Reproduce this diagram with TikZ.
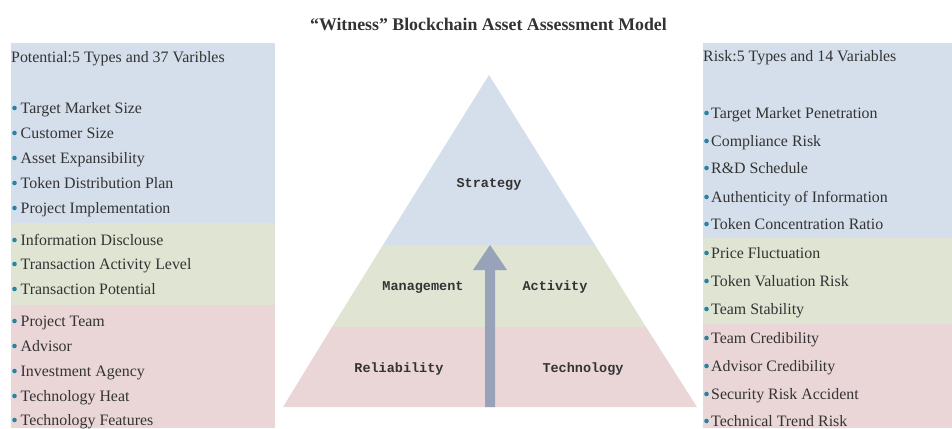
\documentclass[tikz,border=0pt]{standalone}
\usepackage{fontspec}
\setmainfont{Liberation Serif}
\newfontfamily\monob{Liberation Mono}
\definecolor{cblue}{RGB}{213,223,235}
\definecolor{cgreen}{RGB}{223,228,211}
\definecolor{cpink}{RGB}{235,214,215}
\definecolor{ctext}{RGB}{51,51,51}
\definecolor{cdot}{RGB}{38,132,165}
\definecolor{carrow}{RGB}{152,163,186}
\tikzset{
  item/.style={anchor=base west, inner sep=0pt, text=ctext, font=\fontsize{15.9}{18}\selectfont},
  head/.style={anchor=base west, inner sep=0pt, text=ctext, font=\fontsize{15.9}{18}\selectfont},
  lvl/.style={inner sep=0pt, text=ctext, font=\monob\bfseries\fontsize{13.5}{16}\selectfont},
  ttl/.style={inner sep=0pt, text=ctext, font=\bfseries\fontsize{17.8}{20}\selectfont}
}
\begin{document}
\begin{tikzpicture}[x=1pt,y=-1pt]
\useasboundingbox (0,0) rectangle (952,428);
\fill[white] (0,0) rectangle (952,428);
% title
\node[ttl] (title) at (488.5,24) {“Witness” Blockchain Asset Assessment Model};
% left panel
\fill[cblue] (11,43) rectangle (275,223);
\fill[cgreen] (11,223) rectangle (275,305);
\fill[cpink] (11,305) rectangle (275,428);
% right panel
\fill[cblue] (703,43) rectangle (952,238);
\fill[cgreen] (703,238) rectangle (952,324);
\fill[cpink] (703,324) rectangle (952,428);
% headings
\node[head] (lhead) at (11,63) {Potential:5 Types and 37 Varibles};
\node[head] (rhead) at (703,62) {Risk:5 Types and 14 Variables};
% left items
\foreach \y/\t [count=\i] in {108/Target Market Size,133/Customer Size,158/Asset Expansibility,183/Token Distribution Plan,208/Project Implementation,240/Information Disclouse,264/Transaction Activity Level,289/Transaction Potential,321/Project Team,346/Advisor,371/Investment Agency,396/Technology Heat,420/Technology Features}{
  \fill[cdot] (14.5,\y) circle (2.3);
  \node[item] (l\i) at (20.5,\y+5) {\t};
}
% right items
\foreach \y/\t [count=\i] in {113/Target Market Penetration,141/Compliance Risk,168/R\&D Schedule,197/Authenticity of Information,224/Token Concentration Ratio,253/Price Fluctuation,281/Token Valuation Risk,309/Team Stability,338/Team Credibility,366/Advisor Credibility,394/Security Risk Accident,421/Technical Trend Risk}{
  \fill[cdot] (706.5,\y) circle (2.3);
  \node[item] (r\i) at (711,\y+5) {\t};
}
% pyramid
\coordinate (apex) at (489,75);
\coordinate (bl) at (383,245);
\coordinate (br) at (595,245);
\coordinate (cl) at (332,327);
\coordinate (cr) at (646,327);
\coordinate (dl) at (283,407);
\coordinate (dr) at (697,407);
\fill[cblue] (apex) -- (bl) -- (br) -- cycle;
\fill[cgreen] (bl) -- (br) -- (cr) -- (cl) -- cycle;
\fill[cpink] (cl) -- (cr) -- (dr) -- (dl) -- cycle;
% arrow
\fill[carrow] (485,407) -- (485,270) -- (473,270) -- (490,245) -- (507,270) -- (495,270) -- (495,407) -- cycle;
% labels
\node[lvl] (strategy) at (489,184) {Strategy};
\node[lvl] (management) at (423,287) {Management};
\node[lvl] (activity) at (555,287) {Activity};
\node[lvl] (reliability) at (399,369) {Reliability};
\node[lvl] (technology) at (583,369) {Technology};
\end{tikzpicture}
\end{document}
